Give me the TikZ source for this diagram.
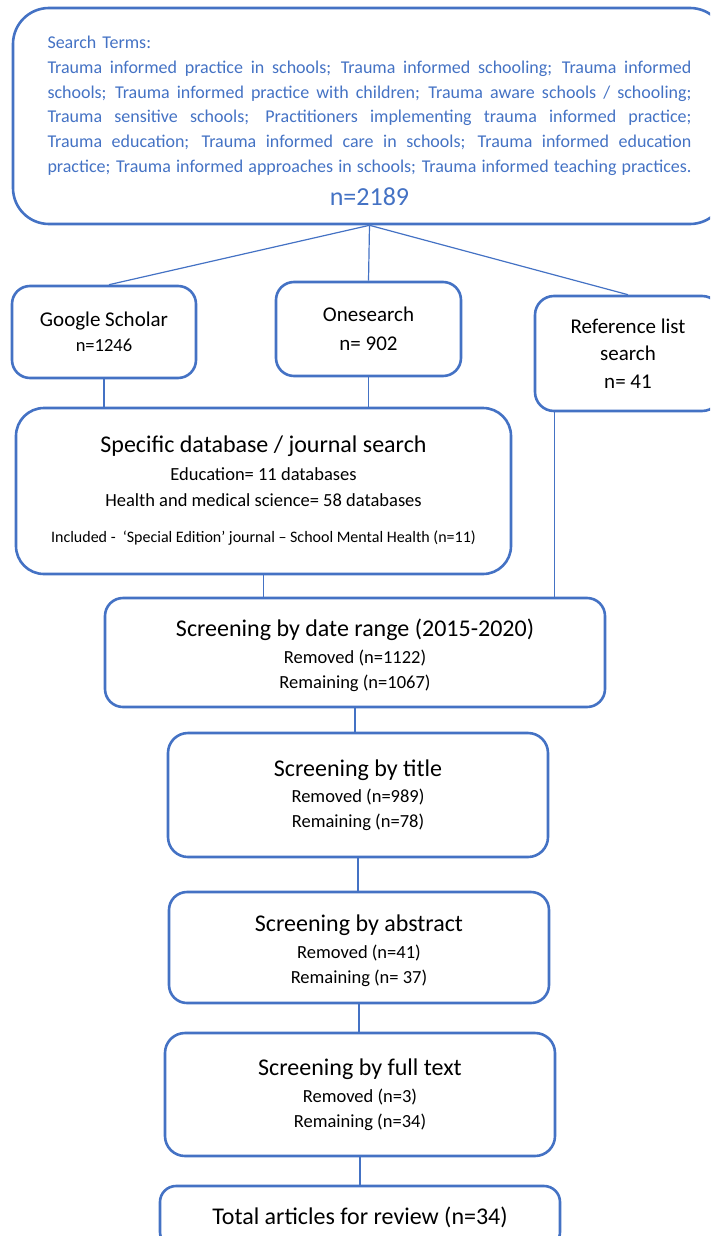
\documentclass[tikz,border=0pt]{standalone}
\usepackage{fontspec}
\setmainfont{Carlito}
\definecolor{boxblue}{HTML}{4472C4}
\newcommand{\termline}[1]{\makebox[644pt][s]{\spaceskip=0.226em plus 1fil minus 0.08em\relax #1}}

\begin{document}
\begin{tikzpicture}[x=1pt,y=-1pt,
		box/.style={draw=boxblue,line width=2.6pt,rounded corners=#1,inner sep=0pt,align=center,font=\fontsize{18.5}{25}\selectfont},
		link/.style={draw=boxblue,line width=1.2pt}]
		\clip (0,0) rectangle (710,1236);
		\node [box=36pt,minimum width=713pt,minimum height=216pt,text width=644pt,align=left,font=\fontsize{18}{24.8}\selectfont,text=boxblue] (0) at (369.5,116) {\rule{0pt}{22pt}Search Terms:\\
			\termline{Trauma informed practice in schools; Trauma informed schooling; Trauma informed}\\
			\termline{schools; Trauma informed practice with children; Trauma aware schools / schooling;}\\
			\termline{Trauma sensitive schools; Practitioners implementing trauma informed practice;}\\
			\termline{Trauma education; Trauma informed care in schools; Trauma informed education}\\
			\termline{practice; Trauma informed approaches in schools; Trauma informed teaching practices.}\\[8pt]
			\makebox[644pt]{\fontsize{26}{30}\selectfont n=2189}};
		\node [box=18pt,minimum width=184pt,minimum height=92pt] (1) at (104,332) {{\fontsize{21}{25}\selectfont Google Scholar}\\n=1246};
		\node [box=18pt,minimum width=185pt,minimum height=94pt,font=\fontsize{21}{29}\selectfont] (2) at (368.5,329) {Onesearch\\n= 902};
		\node [box=19pt,minimum width=186pt,minimum height=115pt,font=\fontsize{21}{27.5}\selectfont] (3) at (628,353.5) {Reference list\\search\\n= 41};
		\node [box=28pt,minimum width=495pt,minimum height=166pt,font=\fontsize{18.5}{26}\selectfont] (4) at (263.5,491) {{\fontsize{24}{29}\selectfont Specific database / journal search}\\[2pt]
			Education= 11 databases\\Health and medical science= 58 databases\\[10pt]
			{\fontsize{16}{20}\selectfont Included -\ \ ‘Special Edition’ journal – School Mental Health (n=11)}};
		\node [box=18pt,minimum width=500pt,minimum height=109pt] (5) at (355,652.5) {{\fontsize{24}{29}\selectfont\rule{0pt}{24pt}Screening by date range (2015-2020)}\\[2pt]
			Removed (n=1122)\\Remaining (n=1067)};
		\node [box=20pt,minimum width=380pt,minimum height=124pt] (6) at (358,795) {{\fontsize{24}{29}\selectfont Screening by title}\\[1pt]
			Removed (n=989)\\Remaining (n=78)};
		\node [box=18pt,minimum width=380pt,minimum height=111pt] (7) at (359,947.5) {{\fontsize{24}{29}\selectfont\rule{0pt}{23pt}Screening by abstract}\\[2pt]
			Removed (n=41)\\Remaining (n= 37)};
		\node [box=20pt,minimum width=390pt,minimum height=123pt] (8) at (360,1094.5) {{\fontsize{24}{29}\selectfont Screening by full text}\\[2pt]
			Removed (n=3)\\Remaining (n=34)};
		\node [box=16pt,minimum width=400pt,minimum height=62pt,font=\fontsize{24}{29}\selectfont] (9) at (360,1217) {Total articles for review (n=34)};
		\coordinate (g) at ([xshift=5pt]1.north);
		\coordinate (r) at ([xshift=21pt]3.south west);
		\draw [link] (0.south) -- (g);
		\draw [link] (0.south) -- (2.north);
		\draw [link] (0.south) -- (3.north);
		\draw [link] (1.south) -- (1.south |- 4.north);
		\draw [link] (2.south) -- (2.south |- 4.north);
		\draw [link] (4.south) -- (4.south |- 5.north);
		\draw [link] (r) -- (r |- 5.north);
		\draw [link] (5.south) -- (5.south |- 6.north);
		\draw [link] (6.south) -- (6.south |- 7.north);
		\draw [link] (7.south) -- (7.south |- 8.north);
		\draw [link] (8.south) -- (8.south |- 9.north);
	\end{tikzpicture}
\end{document}
